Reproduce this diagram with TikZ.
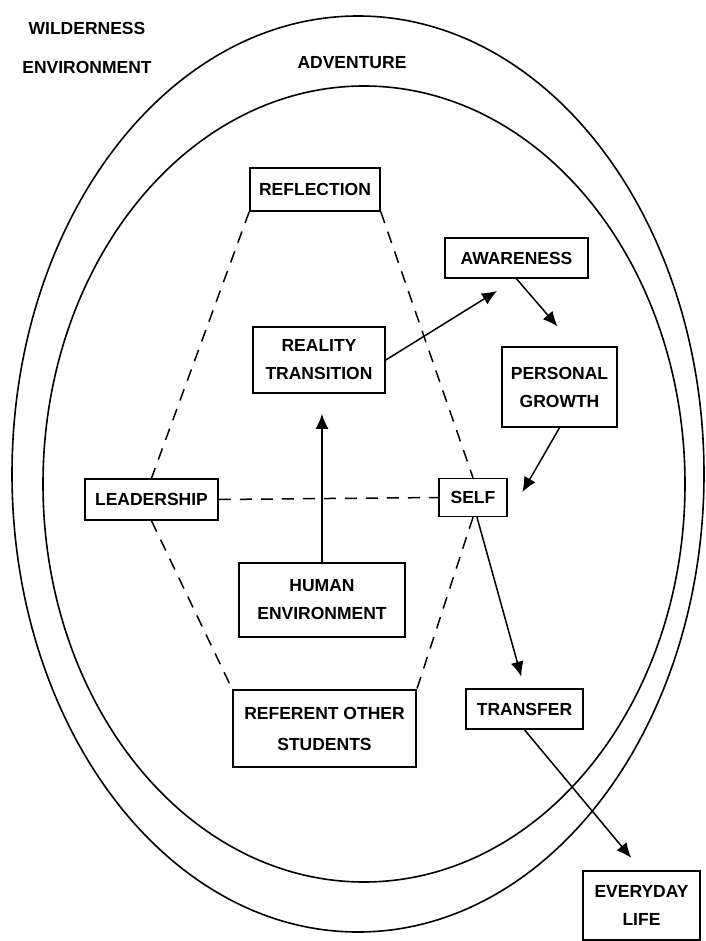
\documentclass[tikz,border=0pt]{standalone}
\usepackage{fontspec}
\setmainfont{Liberation Sans}
\usetikzlibrary{arrows.meta}
\tikzset{
	tag/.style={font=\fontsize{17.5}{28}\selectfont\bfseries, align=center, inner sep=0pt},
	box/.style={tag, draw, line width=1.6pt},
	dashlink/.style={line width=1.5pt, dash pattern=on 12pt off 9pt},
	flow/.style={line width=1.5pt, -{Latex[length=15pt,width=13pt]}},
	ring/.style={line width=1.6pt}
}

\begin{document}
\begin{tikzpicture}[x=1pt,y=-1pt]
	\useasboundingbox (0,0) rectangle (705,941);
	% the two rings
	\draw[ring] (358,474) ellipse [x radius=346pt, y radius=458pt];
	\draw[ring] (364,484) ellipse [x radius=321pt, y radius=398pt];
	\node[tag] (wild) at (87,48) {WILDERNESS\\[11pt]ENVIRONMENT};
	\node[tag] (adv) at (352,63) {ADVENTURE};
	% boxes
	\node[box, minimum width=130pt, minimum height=43pt] (reflection) at (315,189.5) {REFLECTION};
	\node[box, minimum width=143pt, minimum height=40pt] (awareness) at (516.5,258) {AWARENESS};
	\node[box, minimum width=132pt, minimum height=66pt] (reality) at (319,360) {REALITY\\TRANSITION};
	\node[box, minimum width=115pt, minimum height=80pt] (personal) at (559.5,387) {PERSONAL\\GROWTH};
	\node[box, minimum width=133pt, minimum height=41pt] (leadership) at (151.5,499.5) {LEADERSHIP};
	\node[box, minimum width=68pt, minimum height=38pt] (self) at (473,497.5) {SELF};
	\node[box, minimum width=166pt, minimum height=74pt] (human) at (322,600) {HUMAN\\ENVIRONMENT};
	\node[box, minimum width=183pt, minimum height=77pt] (referent) at (324.5,728.5) {REFERENT OTHER\\[3pt]STUDENTS};
	\node[box, minimum width=117pt, minimum height=40pt] (transfer) at (524.5,709) {TRANSFER};
	\node[box, minimum width=117pt, minimum height=69pt] (everyday) at (641.5,905.5) {EVERYDAY\\LIFE};
	% dashed hexagon
	\draw[dashlink] (reflection.south west) -- (leadership.north);
	\draw[dashlink] (reflection.south east) -- (self.north);
	\draw[dashlink] (leadership.east) -- (self.west);
	\draw[dashlink] (leadership.south) -- (referent.north west);
	\draw[dashlink] (self.south) -- (referent.north east);
	% arrows
	\draw[flow, shorten >=20pt] (human.north) -- (human.north |- reality.south);
	\draw[flow, shorten >=23pt] (reality.east) -- (awareness.south);
	\draw[flow, shorten >=26pt] (awareness.south) -- ([xshift=15pt]personal.north);
	\draw[flow, shorten >=29pt] (personal.south) -- (self.south east);
	\draw[flow, shorten >=12pt] ([xshift=4pt]self.south) -- (transfer.north);
	\draw[flow, shorten >=16pt] (transfer.south) -- (everyday.north);
\end{tikzpicture}
\end{document}
